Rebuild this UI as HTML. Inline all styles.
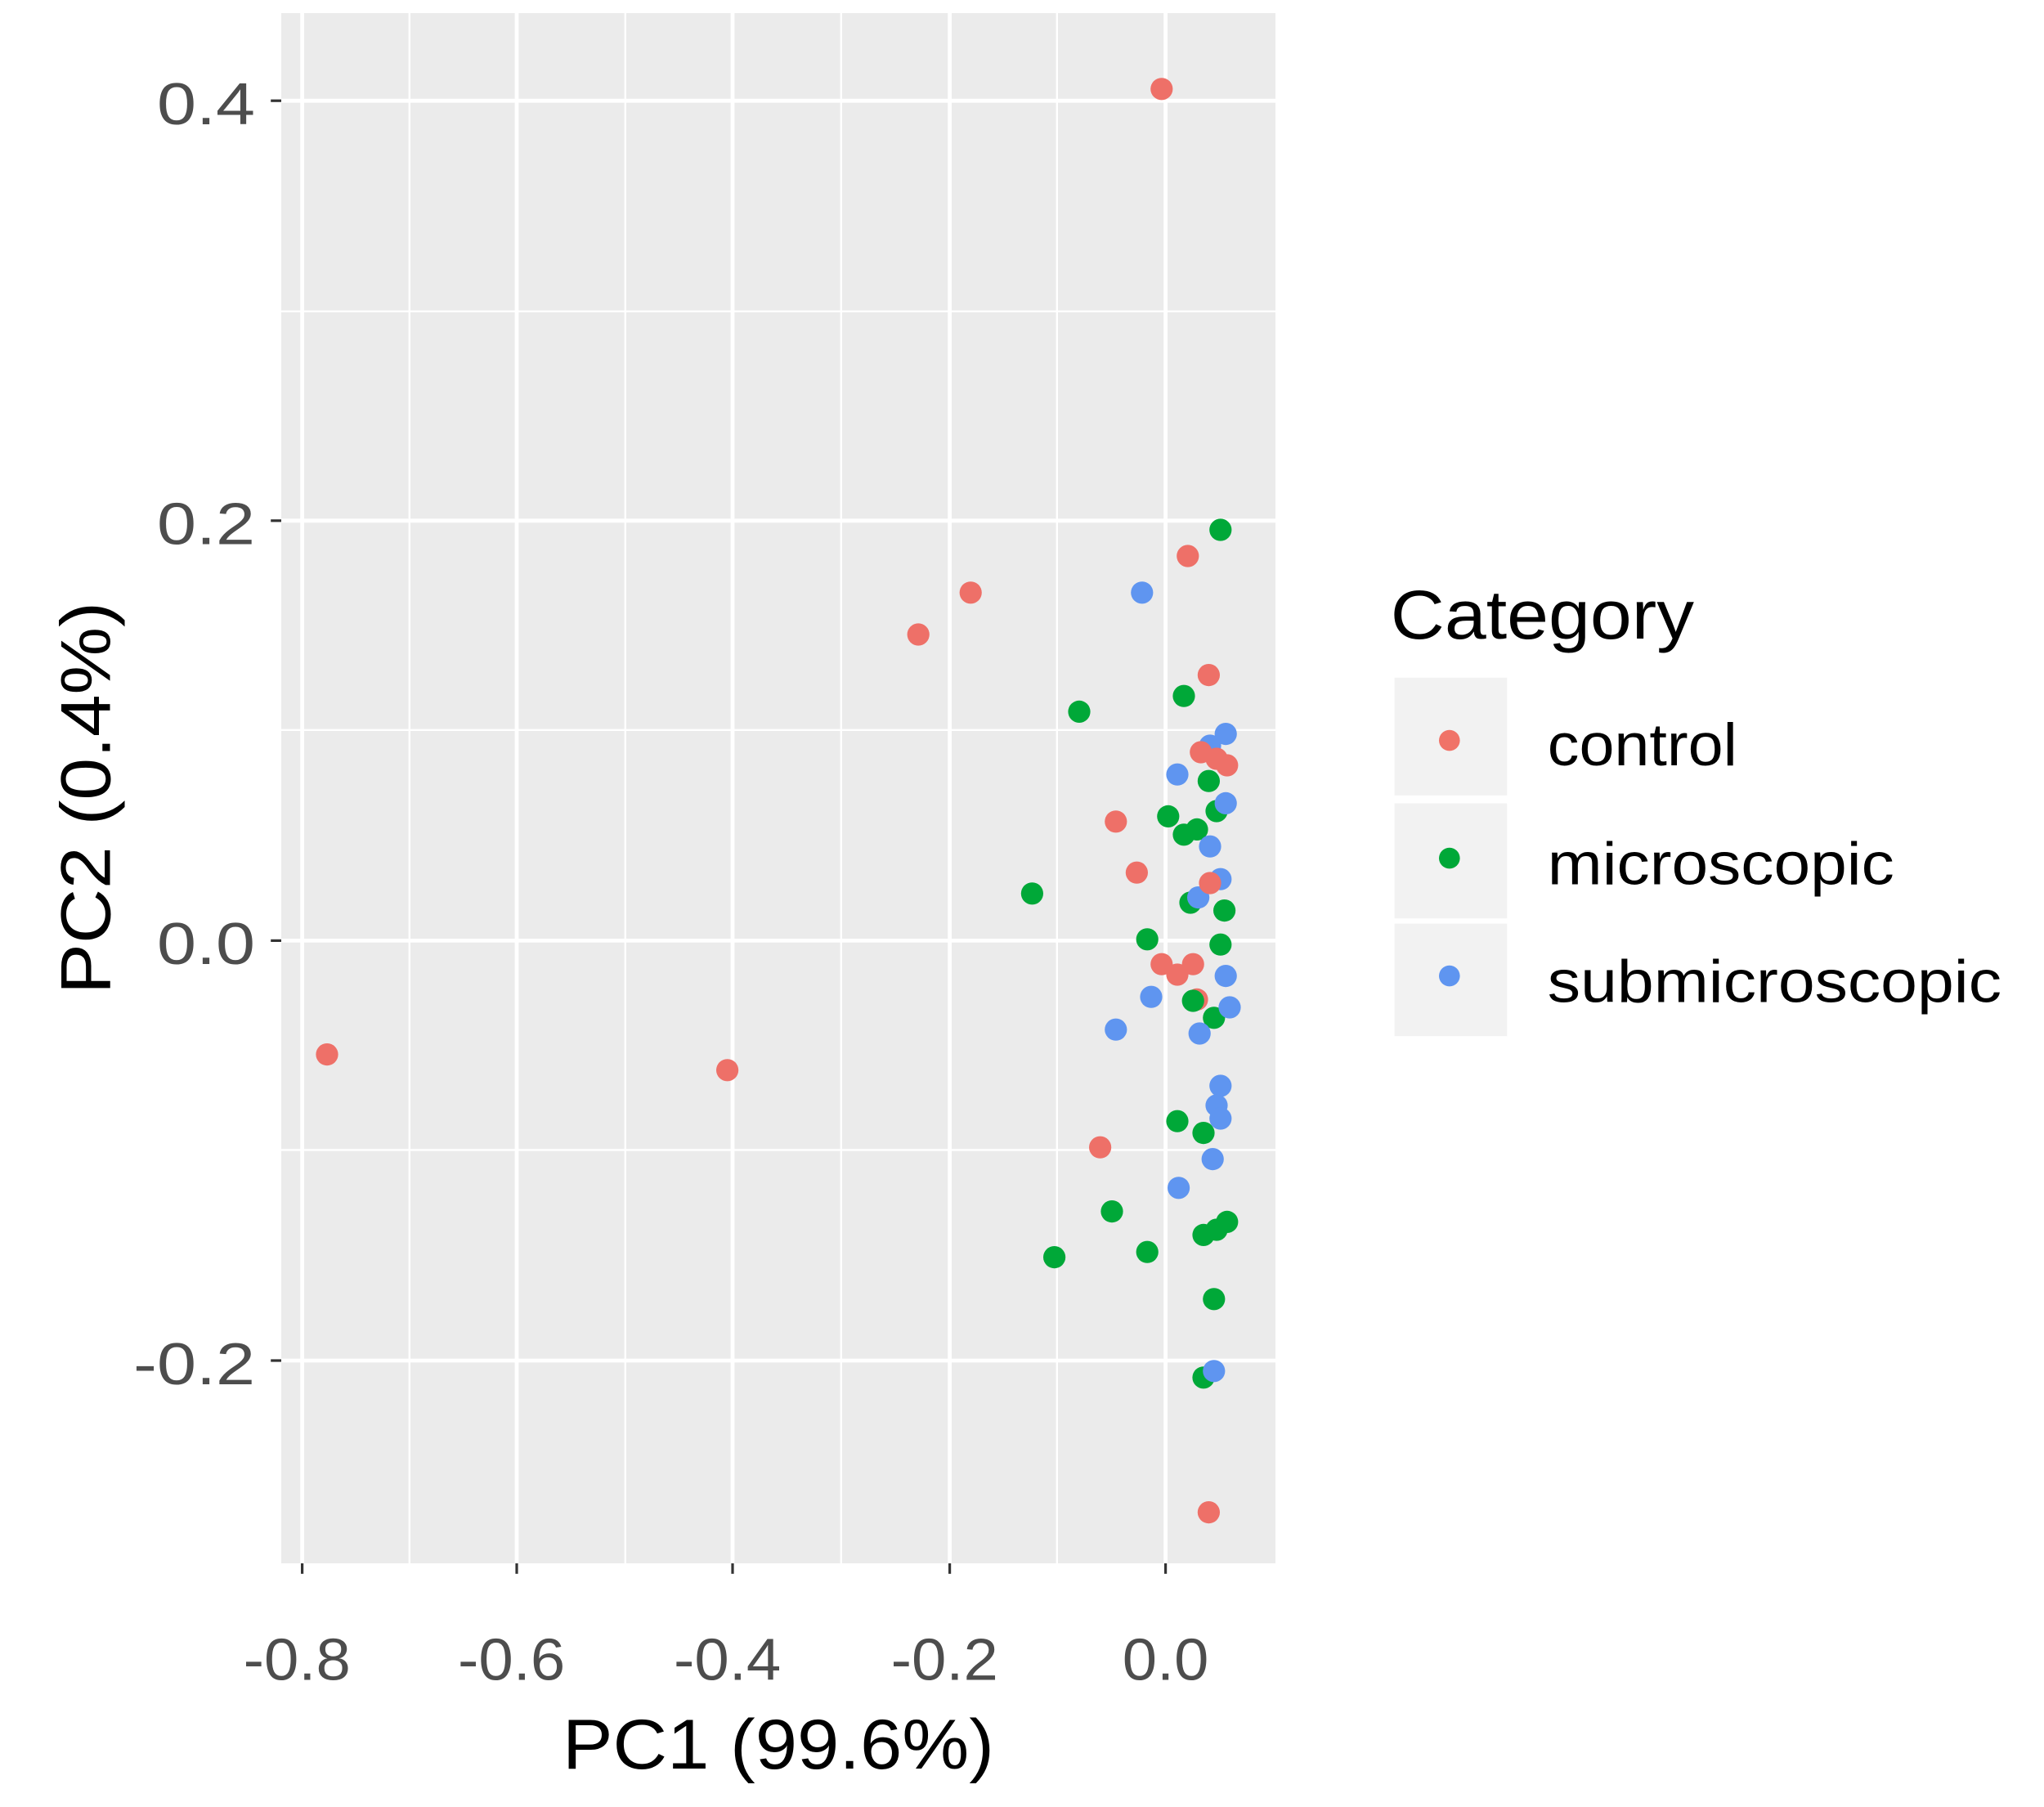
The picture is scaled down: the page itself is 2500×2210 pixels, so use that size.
<!DOCTYPE html>
<html><head><style>html,body{margin:0;padding:0;background:#fff}svg{display:block}</style></head><body>
<svg width="2500" height="2210" viewBox="0 0 1562.5 1381.25" xmlns="http://www.w3.org/2000/svg" font-family="Liberation Sans, Arial, sans-serif">
<rect x="0" y="0" width="1562.5" height="1381.25" fill="#fff"/>
<rect x="215" y="10" width="760" height="1185" fill="#ebebeb"/>
<g stroke="#fff" stroke-width="1.5">
<line x1="215" x2="975" y1="238" y2="238"/><line x1="215" x2="975" y1="558" y2="558"/><line x1="215" x2="975" y1="879" y2="879"/>
<line x1="313" x2="313" y1="10" y2="1195"/><line x1="478" x2="478" y1="10" y2="1195"/><line x1="643" x2="643" y1="10" y2="1195"/><line x1="808" x2="808" y1="10" y2="1195"/>
</g>
<g stroke="#fff" stroke-width="3">
<line x1="215" x2="975" y1="77" y2="77"/><line x1="215" x2="975" y1="398" y2="398"/><line x1="215" x2="975" y1="719" y2="719"/><line x1="215" x2="975" y1="1040" y2="1040"/>
<line x1="231" x2="231" y1="10" y2="1195"/><line x1="395" x2="395" y1="10" y2="1195"/><line x1="560" x2="560" y1="10" y2="1195"/><line x1="726" x2="726" y1="10" y2="1195"/><line x1="891" x2="891" y1="10" y2="1195"/>
</g>
<g stroke="#333" stroke-width="2">
<line x1="207" x2="215" y1="77" y2="77"/><line x1="207" x2="215" y1="398" y2="398"/><line x1="207" x2="215" y1="719" y2="719"/><line x1="207" x2="215" y1="1040" y2="1040"/>
<line x1="231" x2="231" y1="1195" y2="1203"/><line x1="395" x2="395" y1="1195" y2="1203"/><line x1="560" x2="560" y1="1195" y2="1203"/><line x1="726" x2="726" y1="1195" y2="1203"/><line x1="891" x2="891" y1="1195" y2="1203"/>
</g>
<g fill="#4d4d4d" font-size="45">
<text x="120" y="95" textLength="75" lengthAdjust="spacingAndGlyphs">0.4</text>
<text x="120" y="416" textLength="75" lengthAdjust="spacingAndGlyphs">0.2</text>
<text x="120" y="737" textLength="75" lengthAdjust="spacingAndGlyphs">0.0</text>
<text x="102" y="1058" textLength="93" lengthAdjust="spacingAndGlyphs">-0.2</text>
<text x="186" y="1284" textLength="82" lengthAdjust="spacingAndGlyphs">-0.8</text>
<text x="350" y="1284" textLength="82" lengthAdjust="spacingAndGlyphs">-0.6</text>
<text x="515" y="1284" textLength="82" lengthAdjust="spacingAndGlyphs">-0.4</text>
<text x="681" y="1284" textLength="82" lengthAdjust="spacingAndGlyphs">-0.2</text>
<text x="858" y="1284" textLength="66" lengthAdjust="spacingAndGlyphs">0.0</text>
</g>
<text x="430" y="1352" font-size="54" fill="#000" textLength="330" lengthAdjust="spacingAndGlyphs">PC1 (99.6%)</text>
<text transform="translate(84,760) rotate(-90)" font-size="54" fill="#000" textLength="300" lengthAdjust="spacingAndGlyphs">PC2 (0.4%)</text>
<text x="1063" y="488" font-size="53" fill="#000" textLength="232" lengthAdjust="spacingAndGlyphs">Category</text>
<rect x="1066" y="518" width="86" height="90" fill="#f2f2f2"/>
<rect x="1066" y="614" width="86" height="88" fill="#f2f2f2"/>
<rect x="1066" y="706" width="86" height="86" fill="#f2f2f2"/>
<circle cx="1108" cy="566" r="8" fill="#F07368"/>
<circle cx="1108" cy="656" r="8" fill="#00A838"/>
<circle cx="1108" cy="746" r="8" fill="#5F95F0"/>
<g font-size="46" fill="#000">
<text x="1183" y="585" textLength="145" lengthAdjust="spacingAndGlyphs">control</text>
<text x="1183" y="676" textLength="265" lengthAdjust="spacingAndGlyphs">microscopic</text>
<text x="1183" y="766" textLength="347" lengthAdjust="spacingAndGlyphs">submicroscopic</text>
</g>
<g fill="#EE7068">
<circle cx="888" cy="68" r="8.5"/><circle cx="908" cy="425" r="8.5"/><circle cx="742" cy="453" r="8.5"/><circle cx="702" cy="485" r="8.5"/><circle cx="924" cy="516" r="8.5"/><circle cx="853" cy="628" r="8.5"/><circle cx="869" cy="667" r="8.5"/><circle cx="888" cy="737" r="8.5"/><circle cx="900" cy="745" r="8.5"/><circle cx="912" cy="737" r="8.5"/><circle cx="915" cy="764" r="8.5"/><circle cx="250" cy="806" r="8.5"/><circle cx="556" cy="818" r="8.5"/><circle cx="841" cy="877" r="8.5"/><circle cx="924" cy="1156" r="8.5"/>
</g>
<g fill="#00A838">
<circle cx="933" cy="405" r="8.5"/><circle cx="905" cy="532" r="8.5"/><circle cx="825" cy="544" r="8.5"/><circle cx="924" cy="597" r="8.5"/><circle cx="893" cy="624" r="8.5"/><circle cx="905" cy="638" r="8.5"/><circle cx="915" cy="634" r="8.5"/><circle cx="930" cy="620" r="8.5"/><circle cx="789" cy="683" r="8.5"/><circle cx="936" cy="696" r="8.5"/><circle cx="910" cy="690" r="8.5"/><circle cx="877" cy="718" r="8.5"/><circle cx="933" cy="722" r="8.5"/><circle cx="912" cy="765" r="8.5"/><circle cx="928" cy="778" r="8.5"/><circle cx="900" cy="857" r="8.5"/><circle cx="920" cy="866" r="8.5"/><circle cx="850" cy="926" r="8.5"/><circle cx="806" cy="961" r="8.5"/><circle cx="877" cy="957" r="8.5"/><circle cx="920" cy="944" r="8.5"/><circle cx="930" cy="940" r="8.5"/><circle cx="938" cy="934" r="8.5"/><circle cx="928" cy="993" r="8.5"/><circle cx="920" cy="1053" r="8.5"/>
</g>
<g fill="#5F95F0">
<circle cx="873" cy="453" r="8.5"/><circle cx="937" cy="561" r="8.5"/><circle cx="925" cy="570" r="8.5"/><circle cx="900" cy="592" r="8.5"/><circle cx="937" cy="614" r="8.5"/><circle cx="925" cy="647" r="8.5"/><circle cx="933" cy="672" r="8.5"/><circle cx="916" cy="686" r="8.5"/><circle cx="937" cy="746" r="8.5"/><circle cx="880" cy="762" r="8.5"/><circle cx="940" cy="770" r="8.5"/><circle cx="853" cy="787" r="8.5"/><circle cx="917" cy="790" r="8.5"/><circle cx="933" cy="830" r="8.5"/><circle cx="930" cy="845" r="8.5"/><circle cx="933" cy="855" r="8.5"/><circle cx="927" cy="886" r="8.5"/><circle cx="901" cy="908" r="8.5"/><circle cx="928" cy="1048" r="8.5"/>
</g>
<g fill="#EE7068">
<circle cx="918" cy="575" r="8.5"/><circle cx="930" cy="580" r="8.5"/><circle cx="938" cy="585" r="8.5"/><circle cx="925" cy="675" r="8.5"/>
</g>
</svg>
</body></html>
